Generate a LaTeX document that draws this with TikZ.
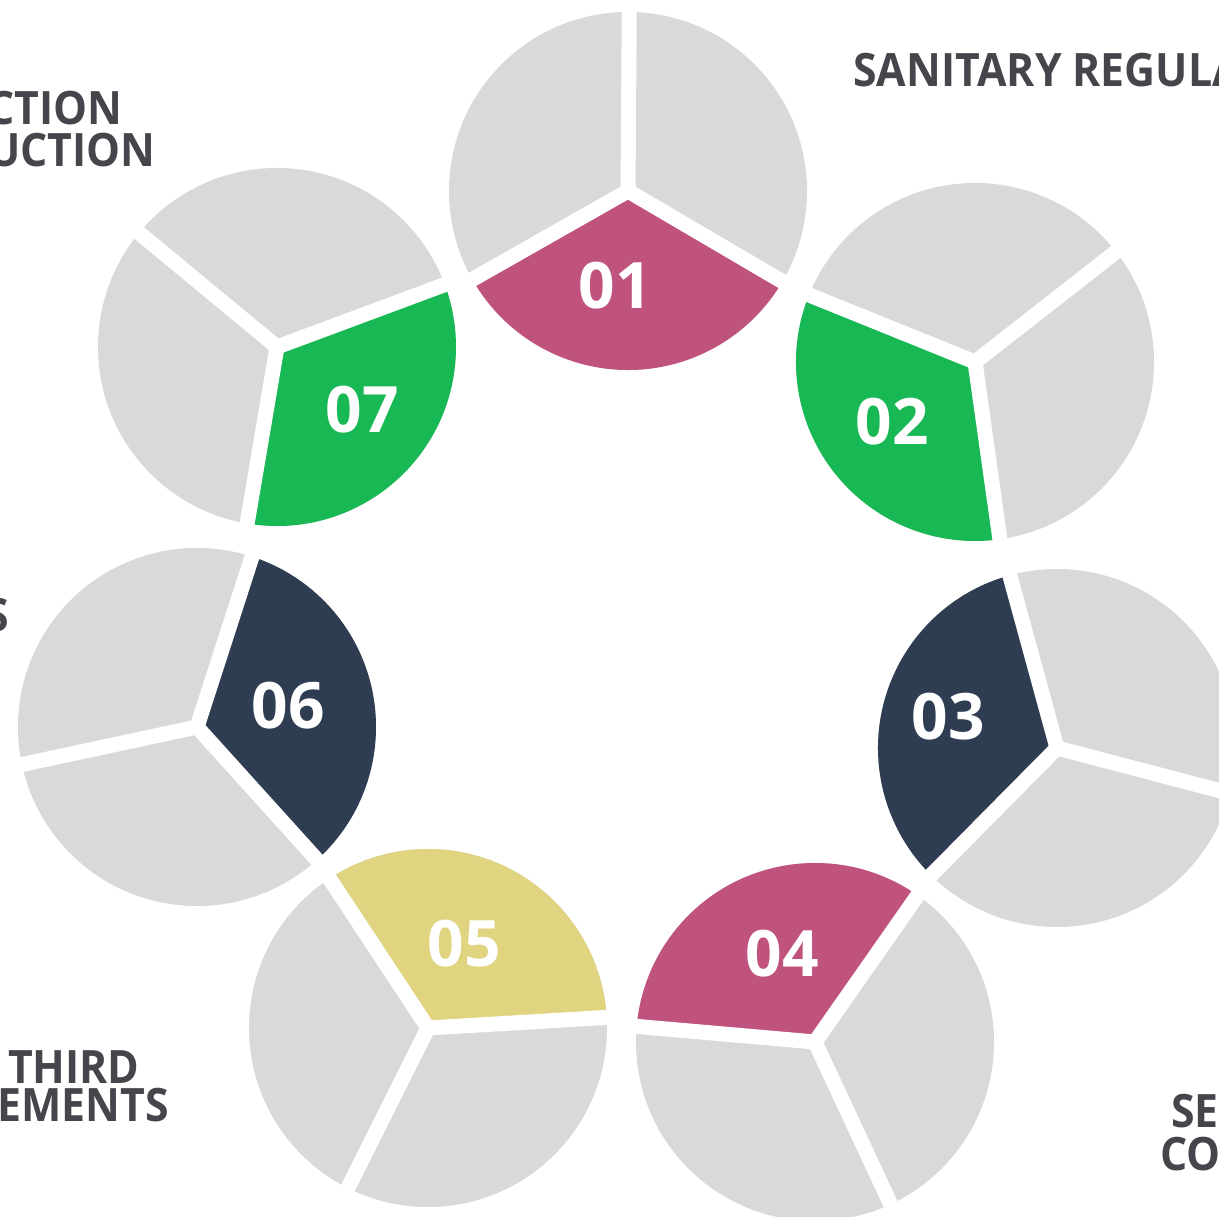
\documentclass[tikz,border=0pt]{standalone}
\usepackage{fontspec}
\setmainfont{Open Sans}
\newfontfamily\capfont{Open Sans}[FakeStretch=0.93]

\definecolor{piegray}{HTML}{D9D9D9}
\definecolor{piepink}{HTML}{C0527E}
\definecolor{piegreen}{HTML}{18B854}
\definecolor{pienavy}{HTML}{2E3D51}
\definecolor{pieyellow}{HTML}{E0D480}
\definecolor{captext}{HTML}{45464C}

\tikzset{
  pienum/.style={text=white, font=\fontsize{32}{32}\selectfont\bfseries},
  ringcaption/.style={text=captext, inner sep=0pt, font=\capfont\fontsize{23}{23}\selectfont\bfseries},
  gapline/.style={white, line width=7.5pt}
}

\begin{document}
\begin{tikzpicture}[x=0.5pt,y=0.5pt]
\useasboundingbox (0,0) rectangle (1219,1216);
\clip (0,0) rectangle (1219,1216);

\def\rad{179}
\def\gaplen{186}

% seven pies, coloured slice facing the middle of the ring
\foreach \n/\cx/\cy/\a/\col/\lx/\ly in {
  01/628/1025/89.6/piepink/615/930,
  02/975/854/38.0/piegreen/892/794,
  03/1057/468/-14.7/pienavy/948/499,
  04/815/174/-65.0/piepink/782/262,
  05/428/188/-116.6/pieyellow/464/272,
  06/197/489/-167.9/pienavy/288/510,
  07/277/869/140.4/piegreen/362/806}
{
  \fill[piegray] (\cx,\cy) circle (\rad);
  \fill[\col] (\cx,\cy) -- ++(\a+120:\rad) arc (\a+120:\a+240:\rad) -- cycle;
  \foreach \b in {0,120,240}
    \draw[gapline] (\cx,\cy) -- ++(\a+\b:\gaplen);
  \node[pienum] (n\n) at (\lx,\ly) {\n};
}

% captions, cut by the page edge
\node[ringcaption, anchor=base west] (sanitary) at (853,1129) {SANITARY REGULA};
\node[ringcaption, anchor=base east] (ction) at (123,1091) {CTION};
\node[ringcaption, anchor=base east] (uction) at (156,1049) {UCTION};
\node[ringcaption, anchor=base east] (lefts) at (9,584) {S};
\node[ringcaption, anchor=base east] (third) at (140,133) {THIRD};
\node[ringcaption, anchor=base east] (ements) at (169,95) {EMENTS};
\node[ringcaption, anchor=base west] (se) at (1171,89) {SE};
\node[ringcaption, anchor=base west] (co) at (1160,46) {CO};
\end{tikzpicture}
\end{document}
